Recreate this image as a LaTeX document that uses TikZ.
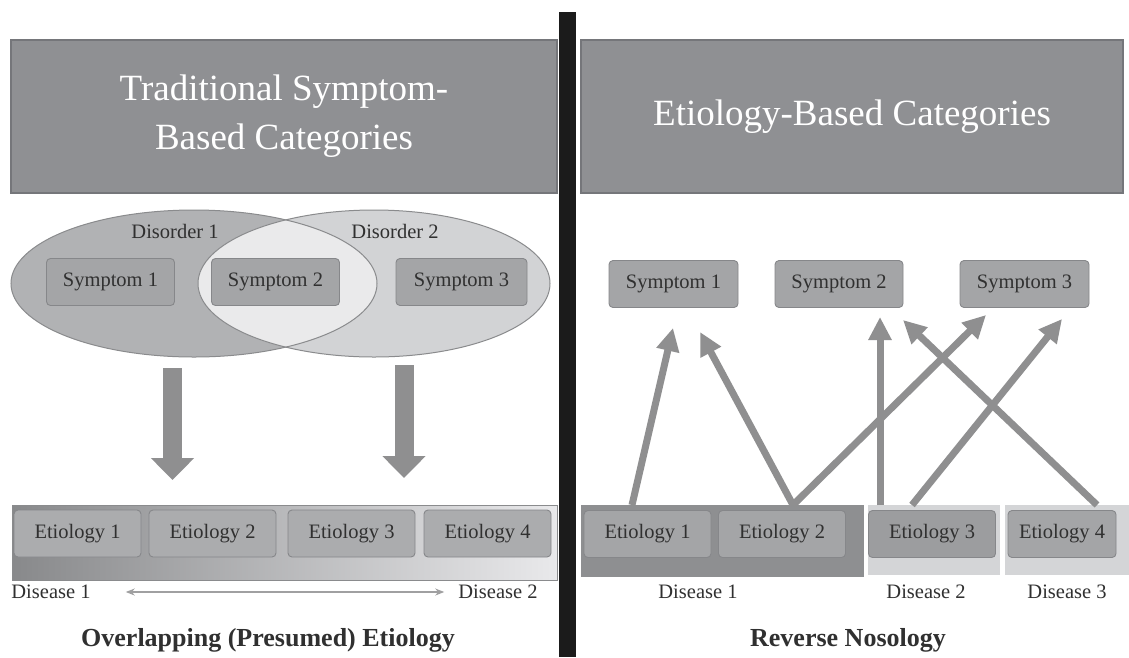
\documentclass[tikz,border=0pt]{standalone}
\usepackage{fontspec}
\setmainfont{Liberation Serif}
\usetikzlibrary{arrows.meta,shapes.geometric}

\definecolor{hdrfill}{HTML}{8F9093}
\definecolor{hdrline}{HTML}{75767A}
\definecolor{dOne}{HTML}{B1B2B4}
\definecolor{dTwo}{HTML}{D2D3D5}
\definecolor{lens}{HTML}{EAEAEB}
\definecolor{ovline}{HTML}{8A8B8D}
\definecolor{boxfill}{HTML}{A4A5A7}
\definecolor{boxline}{HTML}{86878A}
\definecolor{stripL}{HTML}{88898B}
\definecolor{stripR}{HTML}{E9E9EB}
\definecolor{blkdark}{HTML}{8E8F91}
\definecolor{blklight}{HTML}{D4D5D7}
\definecolor{arrowgray}{HTML}{8F8F90}
\definecolor{txt}{HTML}{303030}
\definecolor{barblack}{HTML}{1B1B1B}

\newcommand{\hdrfont}{\fontsize{37}{49}\selectfont}
\newcommand{\lblfont}{\fontsize{20.5}{24}\selectfont}
\newcommand{\ttlfont}{\fontsize{26}{30}\selectfont\bfseries}

\begin{document}
\begin{tikzpicture}[x=1pt,y=-1pt,
  header/.style={draw=hdrline, line width=1.2pt, fill=hdrfill, text=white,
    font=\hdrfont, align=center, inner sep=0pt, minimum height=153pt},
  symbox/.style={draw=boxline, line width=0.9pt, fill=boxfill, rounded corners=4pt,
    text=txt, font=\lblfont, inner sep=0pt, minimum width=128pt, minimum height=47pt},
  etiobox/.style={symbox, minimum width=127pt},
  label/.style={text=txt, font=\lblfont, inner sep=0pt},
  title/.style={text=txt, font=\ttlfont, inner sep=0pt},
  block/.style={draw=none, inner sep=0pt},
  bigarrow/.style={draw=arrowgray, line width=19pt,
    -{Triangle[width=42pt,length=22pt]}},
  linkarrow/.style={draw=arrowgray, line width=7pt,
    -{Triangle[width=22pt,length=23pt]}},
  spanarrow/.style={draw=arrowgray!85, line width=1.3pt,
    {Stealth[length=9pt,width=7pt]}-{Stealth[length=9pt,width=7pt]}}
]
\useasboundingbox (0,0) rectangle (1129,657);
\fill[white] (0,0) rectangle (1129,657);

% divider between the two panels
\fill[barblack] (559,12) rectangle (576,657);

% ---------------- left panel ----------------
\node[header, minimum width=546pt] (hdrL) at (284,116.5)
  {Traditional Symptom-\\Based Categories};

% overlapping disorders
\node[ellipse, fill=dOne, inner sep=0pt, minimum width=366pt, minimum height=147pt] (dis1) at (194,283.5) {};
\node[ellipse, fill=dTwo, inner sep=0pt, minimum width=352pt, minimum height=147pt] (dis2) at (374,283.5) {};
\begin{scope}
  \clip (194,283.5) ellipse [x radius=183pt, y radius=73.5pt];
  \fill[lens] (374,283.5) ellipse [x radius=176pt, y radius=73.5pt];
\end{scope}
\draw[ovline, line width=1pt] (194,283.5) ellipse [x radius=183pt, y radius=73.5pt];
\draw[ovline, line width=1pt] (374,283.5) ellipse [x radius=176pt, y radius=73.5pt];

\node[label] (lblD1) at (175,231) {Disorder 1};
\node[label] (lblD2) at (395,231) {Disorder 2};

\node[symbox] (lS1) at (110.5,282) {Symptom 1};
\node[symbox] (lS2) at (275.5,282) {Symptom 2};
\node[symbox, minimum width=131pt] (lS3) at (461.5,282) {Symptom 3};

% downward block arrows
\coordinate (dA1s) at (172.5,368);
\coordinate (dA1e) at (172.5,480);
\coordinate (dA2s) at (404,365);
\coordinate (dA2e) at (404,478);
\draw[bigarrow] (dA1s) -- (dA1e);
\draw[bigarrow] (dA2s) -- (dA2e);

% etiology continuum
\node[block, draw=ovline, line width=1pt, left color=stripL, right color=stripR,
  minimum width=545pt, minimum height=75pt] (strip) at (284.5,542.5) {};
\node[etiobox, fill=boxfill!92!white] (lE1) at (77.5,533.5) {Etiology 1};
\node[etiobox, fill=boxfill!92!white] (lE2) at (212.5,533.5) {Etiology 2};
\node[etiobox, fill=boxfill!92!white] (lE3) at (351.5,533.5) {Etiology 3};
\node[etiobox, fill=boxfill!92!white] (lE4) at (487.5,533.5) {Etiology 4};

\node[label] (lDis1) at (51,592) {Disease 1};
\node[label] (lDis2) at (498,592) {Disease 2};
\draw[spanarrow, shorten <=35pt, shorten >=14pt] (lDis1.east) -- (lDis2.west);

\node[title] (ttlL) at (268,640) {Overlapping (Presumed) Etiology};

% ---------------- right panel ----------------
\node[header, minimum width=542pt] (hdrR) at (852,116.5) {Etiology-Based Categories};

\node[symbox, minimum width=129pt] (rS1) at (673.5,284) {Symptom 1};
\node[symbox] (rS2) at (839,284) {Symptom 2};
\node[symbox, minimum width=129pt] (rS3) at (1024.5,284) {Symptom 3};

% disease groupings
\node[block, fill=blkdark, minimum width=283pt, minimum height=72pt] (blk1) at (722.5,541) {};
\node[block, fill=blklight, minimum width=132pt, minimum height=70pt] (blk2) at (934,540) {};
\node[block, fill=blklight, minimum width=124pt, minimum height=70pt] (blk3) at (1067,540) {};

\node[etiobox] (rE1) at (647.5,534) {Etiology 1};
\node[etiobox] (rE2) at (782,534) {Etiology 2};
\node[etiobox, fill=boxfill!95!black] (rE3) at (932,534) {Etiology 3};
\node[etiobox, minimum width=108pt] (rE4) at (1062,534) {Etiology 4};

\node[label] (rDis1) at (698,592) {Disease 1};
\node[label] (rDis2) at (926,592) {Disease 2};
\node[label] (rDis3) at (1067,592) {Disease 3};

% causal links from etiologies up to symptoms
\coordinate (fromE1) at (632,505);
\coordinate (fromE2) at (793,505);
\coordinate (fromE3a) at (880,505);
\coordinate (fromE3b) at (912,505);
\coordinate (fromE4) at (1097,505);
\coordinate (toS1a) at (673,328);
\coordinate (toS1b) at (700,332);
\coordinate (toS2a) at (880,317);
\coordinate (toS2b) at (903,320);
\coordinate (toS3a) at (986,315);
\coordinate (toS3b) at (1062,319);

\draw[linkarrow] (fromE1) -- (toS1a);
\draw[linkarrow] (fromE2) -- (toS1b);
\draw[linkarrow] (fromE2) -- (toS3a);
\draw[linkarrow] (fromE3a) -- (toS2a);
\draw[linkarrow] (fromE3b) -- (toS3b);
\draw[linkarrow] (fromE4) -- (toS2b);

\node[title] (ttlR) at (848,640) {Reverse Nosology};
\end{tikzpicture}
\end{document}
